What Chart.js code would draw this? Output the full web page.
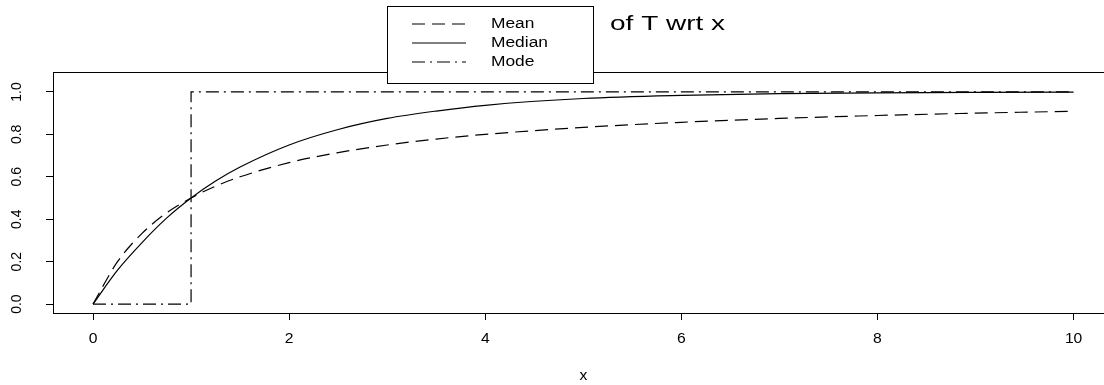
<html>
<head>
    <title>Mean, Median and Mode of T wrt x</title>
    <script src="https://cdn.jsdelivr.net/npm/chart.js"></script>
    <style>
        body { margin: 0; background: #fff; }
        canvas { display: block; }
    </style>
</head>
<body>
    <canvas id="tChart" width="1104" height="385"></canvas>

    <script>
        // values
        const xVals = [0, 0.25, 0.5, 0.75, 1, 1.25, 1.5, 2, 2.5, 3, 3.5, 4, 5, 6, 7, 8, 9, 10];
        const meanVals = [0, 0.2, 0.333, 0.43, 0.5, 0.556, 0.6, 0.667, 0.714, 0.75, 0.778, 0.8, 0.833, 0.857, 0.875, 0.889, 0.9, 0.909];
        const medianVals = [0, 0.16, 0.29, 0.405, 0.5, 0.58, 0.646, 0.75, 0.823, 0.875, 0.91, 0.937, 0.969, 0.984, 0.992, 0.996, 0.998, 0.999];
        const modeX = [0, 1, 1, 10];
        const modeVals = [0, 0, 1, 1];

        const xTicks = [0, 2, 4, 6, 8, 10];
        const yTicks = [0, 0.2, 0.4, 0.6, 0.8, 1];
        const yTickLabels = ['0.0', '0.2', '0.4', '0.6', '0.8', '1.0'];
        const legendLabels = ['Mean', 'Median', 'Mode'];
        const titleText = 'of T wrt x';
        const xTitle = 'x';

        const meanDash = [13, 7];
        const modeDash = [13, 5, 2, 5];
        const fontName = '"Liberation Sans", Arial, sans-serif';

        function pts(xs, ys) {
            return xs.map((x, i) => ({ x: x, y: ys[i] }));
        }

        // text squeezed/stretched horizontally like the R output
        function drawText(ctx, text, x, y, size, sx, align) {
            ctx.save();
            ctx.font = size + 'px ' + fontName;
            ctx.textBaseline = 'middle';
            ctx.textAlign = align || 'center';
            ctx.translate(x, y);
            ctx.scale(sx, 1);
            ctx.fillText(text, 0, 0);
            ctx.restore();
        }

        const rPlot = {
            id: 'rPlot',
            afterDraw(chart) {
                const ctx = chart.ctx;
                const area = chart.chartArea;
                const xs = chart.scales.x;
                const ys = chart.scales.y;

                ctx.save();
                ctx.fillStyle = '#000';
                ctx.strokeStyle = '#000';
                ctx.lineWidth = 1;
                ctx.strokeRect(area.left + 0.5, area.top + 0.5, area.right - area.left + 10, area.bottom - area.top);

                xTicks.forEach(v => {
                    drawText(ctx, String(v), xs.getPixelForValue(v), 339, 14, 1.12);
                });
                yTicks.forEach((v, i) => {
                    ctx.save();
                    ctx.translate(17, ys.getPixelForValue(v));
                    ctx.rotate(-Math.PI / 2);
                    drawText(ctx, yTickLabels[i], 0, 0, 14, 1);
                    ctx.restore();
                });
                drawText(ctx, xTitle, xs.getPixelForValue(5), 376, 14, 1.12);
                drawText(ctx, titleText, 610, 24, 20, 1.4, 'left');

                // legend box
                const lx = 387, ly = 6, lw = 206, lh = 77;
                ctx.fillStyle = '#fff';
                ctx.fillRect(lx, ly, lw, lh);
                ctx.strokeRect(lx + 0.5, ly + 0.5, lw, lh);
                const dashes = [meanDash, [], modeDash];
                const rows = [24, 43, 62];
                ctx.fillStyle = '#000';
                legendLabels.forEach((lab, i) => {
                    ctx.save();
                    ctx.setLineDash(dashes[i]);
                    ctx.lineWidth = 1.2;
                    ctx.beginPath();
                    ctx.moveTo(412, rows[i]);
                    ctx.lineTo(466, rows[i]);
                    ctx.stroke();
                    ctx.restore();
                    drawText(ctx, lab, 491, rows[i], 14, 1.24, 'left');
                });
                ctx.restore();
            }
        };

        const ctx = document.getElementById('tChart').getContext('2d');
        new Chart(ctx, {
            type: 'line',
            data: {
                datasets: [
                    {
                        label: 'Mean',
                        data: pts(xVals, meanVals),
                        borderColor: '#000',
                        borderWidth: 1.2,
                        borderDash: meanDash,
                        pointRadius: 0,
                        cubicInterpolationMode: 'monotone',
                        fill: false
                    },
                    {
                        label: 'Median',
                        data: pts(xVals, medianVals),
                        borderColor: '#000',
                        borderWidth: 1.2,
                        pointRadius: 0,
                        cubicInterpolationMode: 'monotone',
                        fill: false
                    },
                    {
                        label: 'Mode',
                        data: pts(modeX, modeVals),
                        borderColor: '#000',
                        borderWidth: 1.2,
                        borderDash: modeDash,
                        pointRadius: 0,
                        tension: 0,
                        fill: false
                    }
                ]
            },
            options: {
                responsive: false,
                devicePixelRatio: 1,
                animation: false,
                layout: { padding: { top: 72, left: 0, right: 0, bottom: 0 } },
                plugins: {
                    legend: { display: false },
                    tooltip: { enabled: false }
                },
                scales: {
                    x: {
                        type: 'linear',
                        min: -0.408,
                        max: 10.31,
                        afterBuildTicks: s => { s.ticks = xTicks.map(v => ({ value: v })); },
                        afterFit: s => { s.height = 72; },
                        ticks: { display: false },
                        grid: { drawOnChartArea: false, drawTicks: true, tickLength: 7, color: '#000' },
                        border: { display: true, color: '#000' }
                    },
                    y: {
                        min: -0.042,
                        max: 1.094,
                        afterBuildTicks: s => { s.ticks = yTicks.map(v => ({ value: v })); },
                        afterFit: s => { s.width = 53; },
                        ticks: { display: false },
                        grid: { drawOnChartArea: false, drawTicks: true, tickLength: 7, color: '#000' },
                        border: { display: true, color: '#000' }
                    }
                }
            },
            plugins: [rPlot]
        });
    </script>
</body>
</html>
